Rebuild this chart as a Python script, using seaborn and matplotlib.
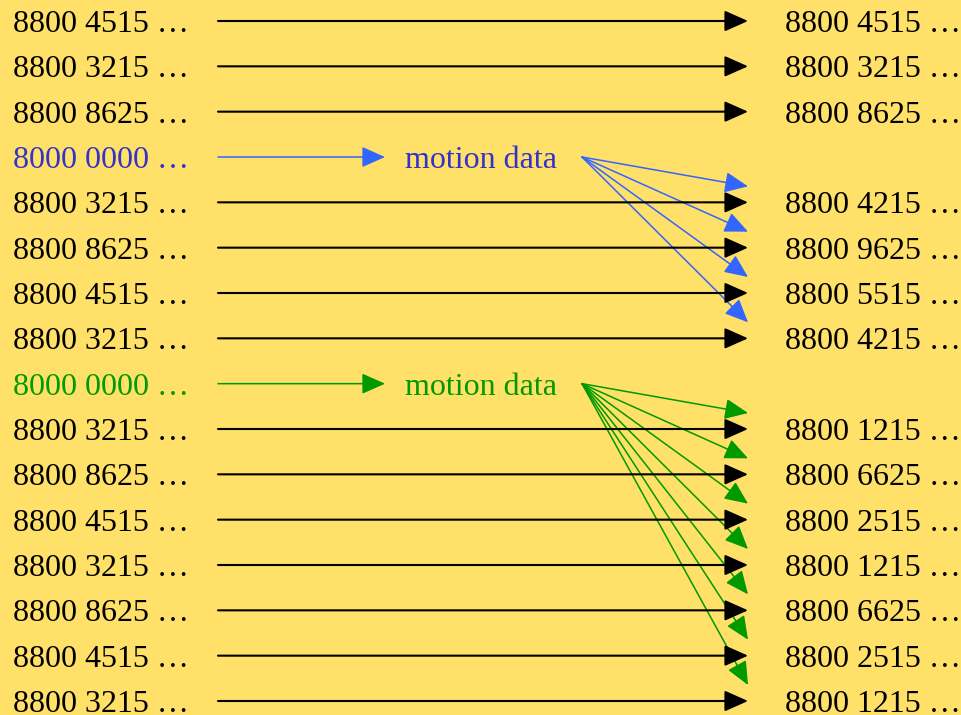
import matplotlib
matplotlib.use("Agg")
import matplotlib.pyplot as plt
import seaborn as sns

# ---- data ----
left_labels = ["8800 4515 …", "8800 3215 …", "8800 8625 …", "8000 0000 …",
               "8800 3215 …", "8800 8625 …", "8800 4515 …", "8800 3215 …",
               "8000 0000 …", "8800 3215 …", "8800 8625 …", "8800 4515 …",
               "8800 3215 …", "8800 8625 …", "8800 4515 …", "8800 3215 …"]
right_labels = ["8800 4515 …", "8800 3215 …", "8800 8625 …", "",
                "8800 4215 …", "8800 9625 …", "8800 5515 …", "8800 4215 …",
                "",
                "8800 1215 …", "8800 6625 …", "8800 2515 …", "8800 1215 …",
                "8800 6625 …", "8800 2515 …", "8800 1215 …"]
row_kind = ["data", "data", "data", "blue", "data", "data", "data", "data",
            "green", "data", "data", "data", "data", "data", "data", "data"]
motion_label = "motion data"
# fan-out targets (row index of target, slightly above the row)
blue_targets = [4, 5, 6, 7]
green_targets = [9, 10, 11, 12, 13, 14, 15]

text_colors = {"data": "#000000", "blue": "#3333CC", "green": "#009900"}
arrow_colors = {"data": "#000000", "blue": "#3366FF", "green": "#009900"}

sns.set_theme(style="white")
plt.rcParams["font.family"] = ["Liberation Serif", "DejaVu Serif"]

fig = plt.figure(figsize=(9.61, 7.15), dpi=100)
fig.patch.set_facecolor("#FFE068")
ax = fig.add_axes([0, 0, 1, 1])
ax.set_facecolor("#FFE068")
ax.set_xlim(0, 961)
row_h = 45.33
ax.set_ylim(15 + 14 / row_h, -21 / row_h)
ax.axis("off")

FS = 23
x_left_text = 13
x_line_start = 218
x_tip = 748
x_right_text = 785
x_motion_tip = 385
x_motion_text = 405
x_fan_origin = 582
fan_offset = 16 / row_h


def arrow(x0, y0, x1, y1, color, lw):
    ax.annotate("", xy=(x1, y1), xytext=(x0, y0),
                arrowprops=dict(arrowstyle="-|>,head_length=0.72,head_width=0.32",
                                mutation_scale=20, color=color, lw=lw,
                                shrinkA=0, shrinkB=0))


for i, (lab, rlab, kind) in enumerate(zip(left_labels, right_labels, row_kind)):
    ax.text(x_left_text, i, lab, color=text_colors[kind], fontsize=FS,
            va="center_baseline", ha="left")
    if kind == "data":
        arrow(x_line_start, i, x_tip, i, arrow_colors[kind], 1.5)
        ax.text(x_right_text, i, rlab, color="#000000", fontsize=FS,
                va="center_baseline", ha="left")
    else:
        arrow(x_line_start, i, x_motion_tip, i, arrow_colors[kind], 1.1)
        ax.text(x_motion_text, i, motion_label, color=text_colors[kind],
                fontsize=FS, va="center_baseline", ha="left")
        targets = blue_targets if kind == "blue" else green_targets
        for t in targets:
            arrow(x_fan_origin, i, x_tip, t - fan_offset, arrow_colors[kind], 1.1)

fig.savefig("out.png", dpi=100, facecolor=fig.get_facecolor())
